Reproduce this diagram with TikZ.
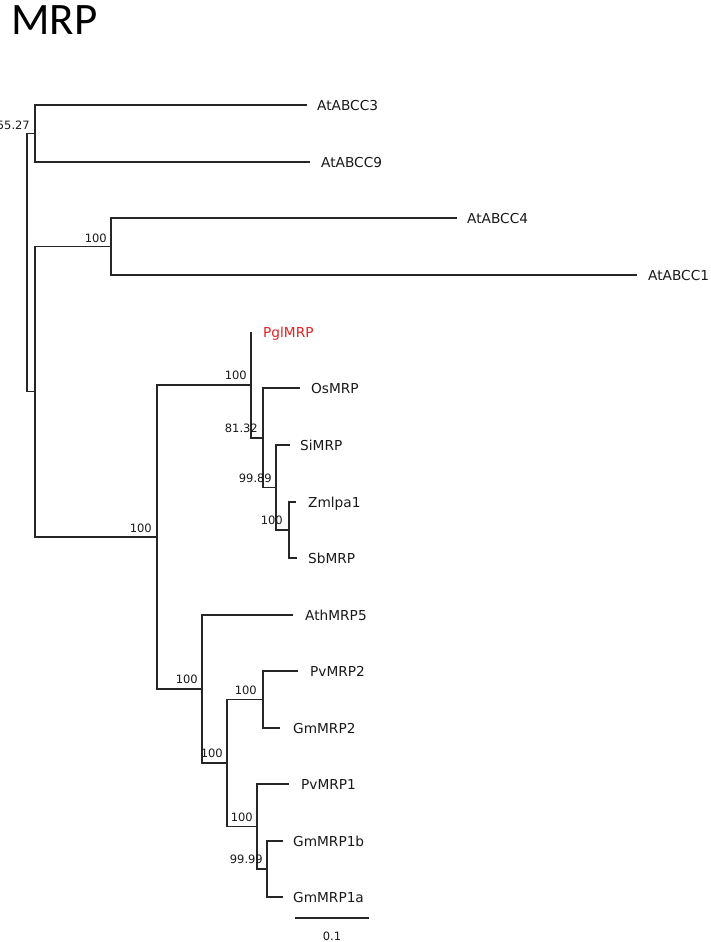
\documentclass[tikz,border=0pt]{standalone}
\usepackage{fontspec}
\setmainfont{DejaVu Sans}
\newfontfamily\titlefont{Carlito}
\definecolor{pglred}{RGB}{228,32,32}
\begin{document}
\begin{tikzpicture}[x=1pt,y=-1pt,
  br/.style={line width=1.2pt, draw=black!85},
  leaf/.style={anchor=base west, inner sep=0pt, font=\fontsize{13.7}{15}\selectfont, text=black!90},
  boot/.style={anchor=south east, inner sep=0pt, font=\fontsize{11.5}{13}\selectfont, text=black!90}]
\useasboundingbox (0,0) rectangle (710,942);

% title
\node[anchor=base west, inner sep=0pt, font=\titlefont\fontsize{45}{48}\selectfont] (title) at (11,34.5) {MRP};

% internal nodes
\coordinate (A) at (27,262.6);
\coordinate (B) at (35,133.5);
\coordinate (C) at (35,391.75);
\coordinate (D) at (111,246.5);
\coordinate (E) at (157,537);
\coordinate (F) at (251,385);
\coordinate (G) at (263,438);
\coordinate (H) at (276,487.5);
\coordinate (I) at (289,530);
\coordinate (J) at (202,689);
\coordinate (K) at (227,763);
\coordinate (L) at (263,699.5);
\coordinate (M) at (257,826.5);
\coordinate (N) at (267,869);

% leaf ends
\coordinate (a3) at (307,105);
\coordinate (a9) at (310,162);
\coordinate (a4) at (457,218);
\coordinate (a1) at (637,275);
\coordinate (pgl) at (251,332);
\coordinate (os) at (300,388);
\coordinate (si) at (290,445);
\coordinate (zm) at (296,502);
\coordinate (sb) at (297,558);
\coordinate (ath) at (293,615);
\coordinate (pv2) at (298,671);
\coordinate (gm2) at (280,728);
\coordinate (pv1) at (289,784);
\coordinate (gm1b) at (283,841);
\coordinate (gm1a) at (283,897);

% branches
\draw[br] (A) |- (B);
\draw[br] (A) |- (C);
\draw[br] (B) |- (a3);
\draw[br] (B) |- (a9);
\draw[br] (C) |- (D);
\draw[br] (C) |- (E);
\draw[br] (D) |- (a4);
\draw[br] (D) |- (a1);
\draw[br] (E) |- (F);
\draw[br] (E) |- (J);
\draw[br] (F) |- (pgl);
\draw[br] (F) |- (G);
\draw[br] (G) |- (os);
\draw[br] (G) |- (H);
\draw[br] (H) |- (si);
\draw[br] (H) |- (I);
\draw[br] (I) |- (zm);
\draw[br] (I) |- (sb);
\draw[br] (J) |- (ath);
\draw[br] (J) |- (K);
\draw[br] (K) |- (L);
\draw[br] (K) |- (M);
\draw[br] (L) |- (pv2);
\draw[br] (L) |- (gm2);
\draw[br] (M) |- (pv1);
\draw[br] (M) |- (N);
\draw[br] (N) |- (gm1b);
\draw[br] (N) |- (gm1a);

% leaf labels
\node[leaf] (t3) at (317,110) {AtABCC3};
\node[leaf] (t9) at (321,167) {AtABCC9};
\node[leaf] (t4) at (467,223) {AtABCC4};
\node[leaf] (t1) at (648,280) {AtABCC1};
\node[leaf, text=pglred] (tpgl) at (263,337) {PglMRP};
\node[leaf] (tos) at (311,393) {OsMRP};
\node[leaf] (tsi) at (300,450) {SiMRP};
\node[leaf] (tzm) at (308,507) {Zmlpa1};
\node[leaf] (tsb) at (308,563) {SbMRP};
\node[leaf] (tath) at (305,620) {AthMRP5};
\node[leaf] (tpv2) at (310,676) {PvMRP2};
\node[leaf] (tgm2) at (293,733) {GmMRP2};
\node[leaf] (tpv1) at (301,789) {PvMRP1};
\node[leaf] (tgm1b) at (293,846) {GmMRP1b};
\node[leaf] (tgm1a) at (293,902) {GmMRP1a};

% bootstrap values
\node[boot] (bB) at ([shift={(-5,-4)}]B) {55.27};
\node[boot] (bD) at ([shift={(-4,-4)}]D) {100};
\node[boot] (bE) at ([shift={(-5,-4)}]E) {100};
\node[boot] (bF) at ([shift={(-4,-5)}]F) {100};
\node[boot] (bG) at ([shift={(-5,-5)}]G) {81.32};
\node[boot] (bH) at ([shift={(-4,-5)}]H) {99.89};
\node[boot] (bI) at ([shift={(-6,-5)}]I) {100};
\node[boot] (bJ) at ([shift={(-4,-5)}]J) {100};
\node[boot] (bK) at ([shift={(-4,-5)}]K) {100};
\node[boot] (bL) at ([shift={(-6,-5)}]L) {100};
\node[boot] (bM) at ([shift={(-4,-5)}]M) {100};
\node[boot] (bN) at ([shift={(-4,-5)}]N) {99.99};

% scale bar
\coordinate (s1) at (295,918);
\coordinate (s2) at (369,918);
\draw[br] (s1) -- (s2);
\node[anchor=base, inner sep=0pt, font=\fontsize{11.5}{13}\selectfont, text=black!90] (sl) at (332,940) {0.1};
\end{tikzpicture}
\end{document}
